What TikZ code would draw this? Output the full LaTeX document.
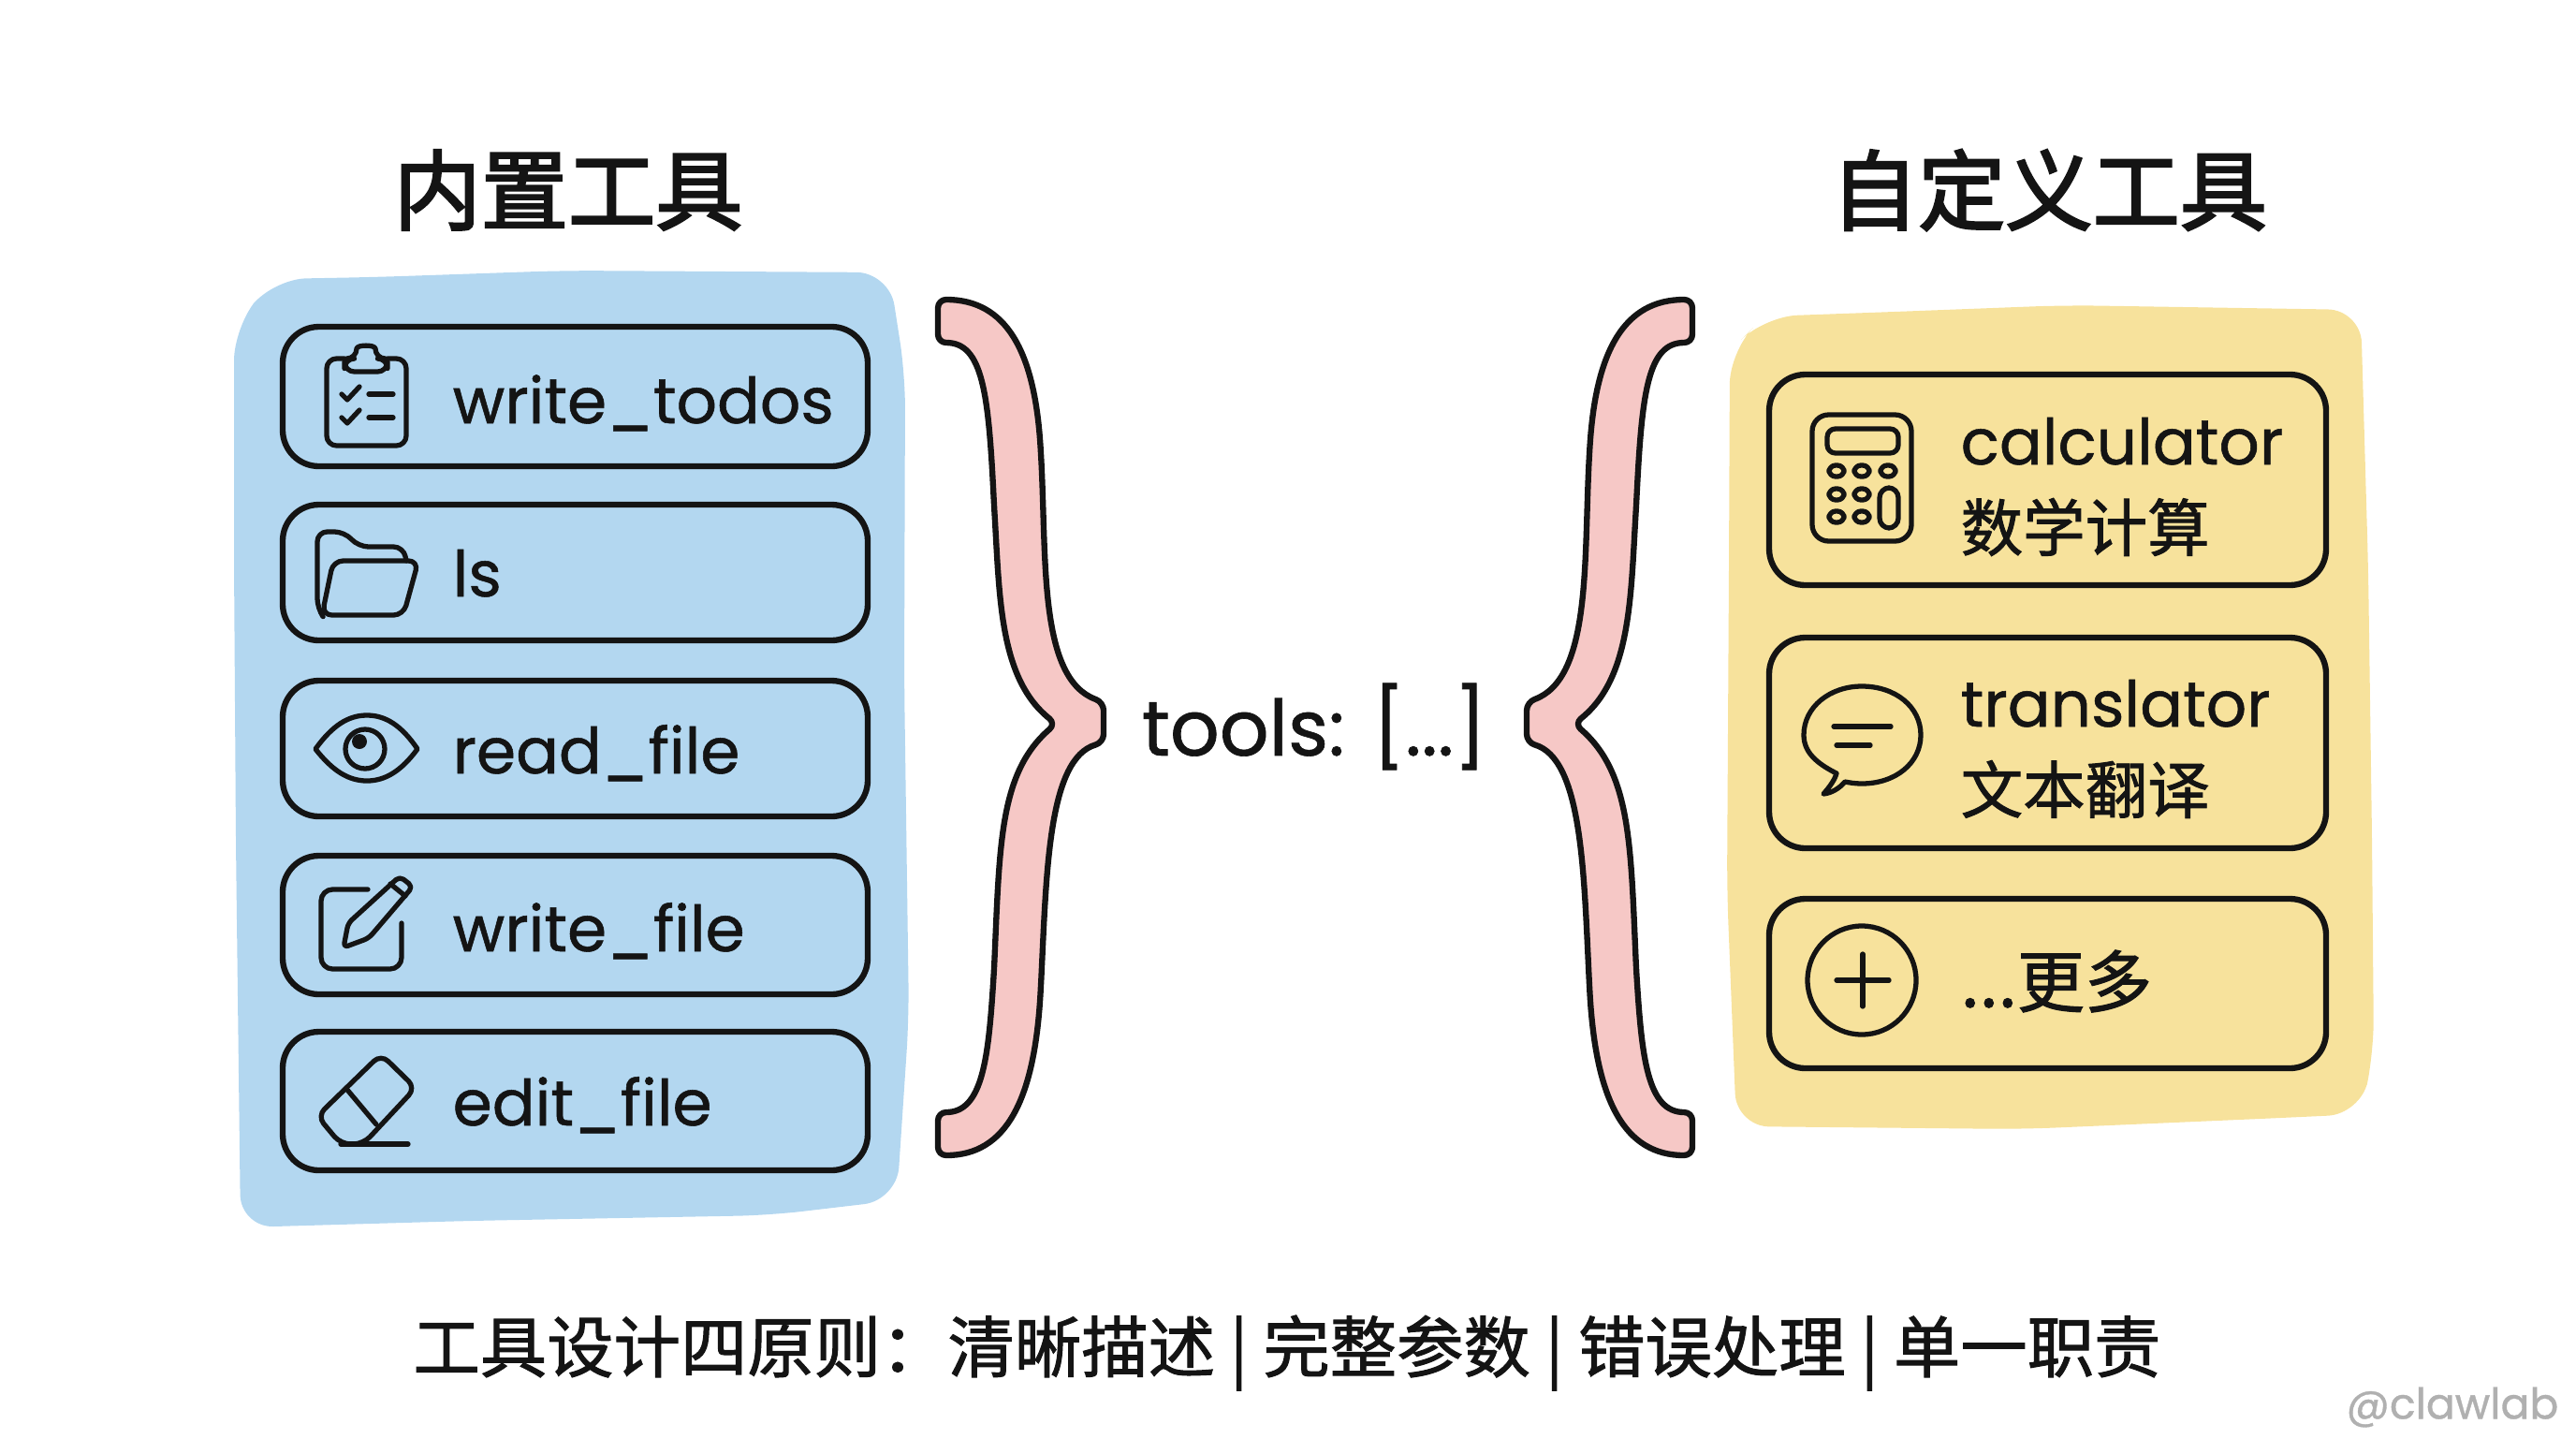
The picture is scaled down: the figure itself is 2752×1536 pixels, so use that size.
\documentclass[tikz,border=0pt]{standalone}
\usepackage{fontspec}
\usepackage{tikz}
\setmainfont{Poppins}[FakeBold=0.8]
\newfontfamily\cjkfont{Noto Sans CJK SC}[FakeBold=1.4]
\newfontfamily\cjkheavy{Noto Sans CJK SC}[FakeBold=2.6]
\definecolor{toolblue}{RGB}{179,215,240}
\definecolor{toolyellow}{RGB}{247,226,156}
\definecolor{bracepink}{RGB}{246,200,198}
\definecolor{inkblack}{RGB}{20,20,20}
\definecolor{markgray}{RGB}{176,176,176}
\tikzset{
  panel/.style={rounded corners=10pt},
  toolbox/.style={draw=inkblack, line width=1.8pt, rounded corners=11pt, inner sep=0pt},
  icon/.style={draw=inkblack, line width=1.5pt, line cap=round, line join=round},
  toollabel/.style={anchor=base west, inner sep=0pt, text=inkblack, font=\fontsize{19.3}{23}\selectfont},
  cjklabel/.style={anchor=west, inner sep=0pt, text=inkblack, font=\cjkfont\fontsize{18.9}{22}\selectfont},
  brace/.style={draw=inkblack, line width=1.8pt, fill=bracepink, line join=round, rounded corners=2.5pt},
  heading/.style={inner sep=0pt, text=inkblack, font=\cjkheavy\fontsize{26.5}{30}\selectfont}
}
\newcommand{\bracepath}{(1002,320) .. controls (1075,320) and (1105,375) .. (1112,484)
  .. controls (1118,600) and (1110,725) .. (1179,750) -- (1179,793)
  .. controls (1120,810) and (1118,930) .. (1112,1053)
  .. controls (1105,1175) and (1075,1234) .. (1002,1234) -- (1002,1188)
  .. controls (1050,1188) and (1056,1130) .. (1062,1035)
  .. controls (1068,900) and (1068,825) .. (1128,773)
  .. controls (1068,725) and (1068,640) .. (1062,540)
  .. controls (1056,420) and (1050,366) .. (1002,366) -- cycle}

\begin{document}
\begin{tikzpicture}[x=0.01cm, y=-0.01cm]
\useasboundingbox (0,0) rectangle (2752,1536);

% Titles
\node[heading] (builtintitle) at (607,203) {内置工具};
\node[heading] (customtitle) at (2189,203) {自定义工具};

% Blue panel
\fill[toolblue, panel] (250,350) -- (292,298) -- (400,296) -- (603,289) -- (950,291) -- (967,400)
  -- (966,726) -- (971,1087) -- (958,1282) -- (822,1298) -- (500,1304) -- (257,1311)
  -- (252,900) -- (250,600) -- cycle;

% Yellow panel
\fill[toolyellow, panel] (1848,375) -- (1885,338) -- (2024,333) -- (2207,326) -- (2522,331) -- (2530,607)
  -- (2534,894) -- (2536,1124) -- (2522,1190) -- (2437,1194) -- (2161,1206) -- (1855,1203)
  -- (1845,951) -- (1847,607) -- cycle;

% Braces
\draw[brace] \bracepath;
\begin{scope}[xscale=-1, xshift=-2810*0.01cm]
\draw[brace] \bracepath;
\end{scope}
\node[inner sep=0pt, text=inkblack, font=\fontsize{23.5}{28}\selectfont] (toolslist) at (1404,776) {tools: [...]};

% write_todos row
\node[toolbox, minimum width=625*0.01cm, minimum height=149*0.01cm] (writetodos) at (614.5,423.5) {};
\draw[icon, rounded corners=3pt] (368,383) -- (349,383) -- (349,476) -- (434,476) -- (434,383) -- (414,383);
\draw[icon, rounded corners=3pt] (368,397) -- (368,383) -- (381,383) .. controls (381,368) and (401,368) .. (401,383) -- (414,383) -- (414,397) -- cycle;
\draw[icon] (365,421) -- (371,427) -- (384,413);
\draw[icon] (365,446) -- (371,452) -- (384,438);
\draw[icon] (394,421) -- (420,421);
\draw[icon] (394,446) -- (420,446);
\node[toollabel] (writetodoslabel) at (483,452) {write\_todos};

% ls row
\node[toolbox, minimum width=625*0.01cm, minimum height=145*0.01cm] (lsrow) at (614.5,611.5) {};
\draw[icon, rounded corners=3pt] (344,657) -- (339,650) -- (339,568) -- (368,568) -- (383,584) -- (431,584) -- (434,599);
\draw[icon, rounded corners=3pt] (344,657) -- (356,599) -- (447,599) -- (431,657) -- cycle;
\node[toollabel] (lslabel) at (483,637) {ls};

% read_file row
\node[toolbox, minimum width=625*0.01cm, minimum height=145*0.01cm] (readfile) at (614.5,799.5) {};
\draw[icon] (337,800) .. controls (355,775) and (372,764) .. (392,764) .. controls (412,764) and (429,775) .. (446,800)
  .. controls (429,823) and (412,834) .. (392,834) .. controls (372,834) and (355,823) .. (337,800) -- cycle;
\draw[icon] (390,800) circle [radius=21];
\fill[inkblack] (384,792) circle [radius=8];
\node[toollabel] (readfilelabel) at (483,826) {read\_file};

% write_file row
\node[toolbox, minimum width=625*0.01cm, minimum height=148*0.01cm] (writefile) at (614.5,988) {};
\draw[icon, rounded corners=3.5pt] (393,950) -- (343,950) -- (343,1035) -- (429,1035) -- (429,986);
\draw[icon, rounded corners=1.5pt] (367,1012) -- (372,986) -- (427,936) -- (441,947) -- (394,1002) -- cycle;
\draw[icon] (417,944) -- (433,957);
\node[toollabel] (writefilelabel) at (483,1016) {write\_file};

% edit_file row
\node[toolbox, minimum width=625*0.01cm, minimum height=148*0.01cm] (editfile) at (614.5,1176) {};
\draw[icon, rounded corners=3pt] (407,1126) -- (444,1162) -- (388,1222) -- (364,1222) -- (339,1192) -- cycle;
\draw[icon] (371,1164) -- (402,1201);
\draw[icon] (364,1222) -- (436,1222);
\node[toollabel] (editfilelabel) at (483,1202) {edit\_file};

% calculator row
\node[toolbox, minimum width=595*0.01cm, minimum height=225*0.01cm] (calculator) at (2187.5,512.5) {};
\draw[icon, rounded corners=5pt] (1936,443) rectangle (2042,578);
\draw[icon, rounded corners=2.5pt] (1952,458) rectangle (2028,484);
\foreach \cx/\cy in {1962/503,1989/503,2017/503,1962/528,1989/528,1962/552,1989/552}
  \draw[icon, rounded corners=2pt] (\cx-8,\cy-6) rectangle (\cx+8,\cy+6);
\draw[icon, rounded corners=3pt] (2008,521) rectangle (2028,564);
\node[toollabel] (calculatorlabel) at (2094,496) {calculator};
\node[cjklabel] (calculatornote) at (2094,563) {数学计算};

% translator row
\node[toolbox, minimum width=595*0.01cm, minimum height=225*0.01cm] (translator) at (2187.5,793.5) {};
\draw[icon] (1962,826) .. controls (1940,815) and (1927,803) .. (1927,785) .. controls (1927,755) and (1955,733) .. (1989,733)
  .. controls (2025,733) and (2052,755) .. (2052,785) .. controls (2052,815) and (2025,837) .. (1989,837)
  .. controls (1982,837) and (1976,836) .. (1971,835) .. controls (1965,842) and (1957,847) .. (1948,848)
  .. controls (1955,840) and (1960,833) .. (1962,826) -- cycle;
\draw[icon] (1959,776) -- (2020,776);
\draw[icon] (1962,796) -- (1998,796);
\node[toollabel] (translatorlabel) at (2094,776) {translator};
\node[cjklabel] (translatornote) at (2094,843) {文本翻译};

% more row
\node[toolbox, minimum width=595*0.01cm, minimum height=181*0.01cm] (morerow) at (2187.5,1050.5) {};
\draw[icon] (1989,1047) circle [radius=58];
\draw[icon] (1962,1047) -- (2018,1047);
\draw[icon] (1990,1019) -- (1990,1075);
\node[cjklabel, font=\cjkfont\fontsize{20.5}{24}\selectfont] (morelabel) at (2094,1048) {...更多};

% Footer and watermark
\node[inner sep=0pt, text=inkblack, font=\cjkfont\fontsize{20.3}{24}\selectfont] (principles) at (1375,1445) {工具设计四原则：清晰描述 | 完整参数 | 错误处理 | 单一职责};
\node[inner sep=0pt, anchor=east, text=markgray, font=\fontsize{13}{16}\selectfont] (watermark) at (2734,1503) {@clawlab};

\end{tikzpicture}
\end{document}
